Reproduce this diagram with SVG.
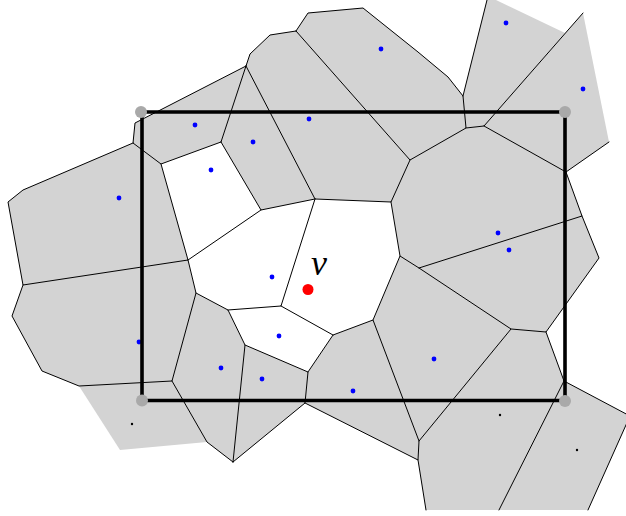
<svg xmlns="http://www.w3.org/2000/svg" width="626" height="516" viewBox="0 0 626 516">
<defs>
<style>
.g{fill:#d3d3d3;stroke:none}
.w{fill:#ffffff;stroke:none}
.e{fill:none;stroke:#000;stroke-width:1;stroke-linejoin:round;stroke-linecap:round}
.b{fill:#0000ff}
.k{fill:#000}
.c{fill:#a9a9a9}
.r{fill:none;stroke:#000;stroke-width:3.6}
</style>
</defs>
<rect width="626" height="516" fill="#fff"/>
<g id="cells">
<polygon id="c1" class="g" points="296,31 308,13 363,8 418,52 448,77 463,96 466,128 410,160"/>
<polygon id="c2" class="g" points="487,0 496,0 565,33 484,126 466,128 463,96"/>
<polygon id="c3" class="g" points="583,13 609,142 566,172 484,126"/>
<polygon id="c4" class="g" points="246,66 250,54 270,35 296,31 410,160 391,202 315,199"/>
<polygon id="c5" class="g" points="246,66 315,199 261,210 221,142"/>
<polygon id="c6" class="g" points="246,66 135,123 133,143 161,164 221,142"/>
<polygon id="c7" class="g" points="133,143 161,164 188,260 23,285 8,202 23,190"/>
<polygon id="c8" class="g" points="23,285 188,260 196,293 172,381 79,386 42,371 12,316"/>
<polygon id="c9" class="g" points="79,386 172,381 207,442 120,450"/>
<polygon id="c10" class="g" points="196,293 228,310 245,345 233,462 207,442 172,381"/>
<polygon id="c11" class="g" points="245,345 308,372 305,403 233,462"/>
<polygon id="c12" class="g" points="333,335 373,320 419,441 418,460 305,403 308,372"/>
<polygon id="c13" class="g" points="373,320 400,256 419,268 511,329 419,441"/>
<polygon id="c14" class="g" points="410,160 466,128 484,126 566,172 582,216 419,268 400,256 391,202"/>
<polygon id="c15" class="g" points="419,268 582,216 599,258 546,332 511,329"/>
<polygon id="c16" class="g" points="419,441 511,329 546,332 564,381 499,510 426,510 418,460"/>
<polygon id="c17" class="g" points="564,381 630,416 588,510 499,510"/>
<polygon id="w1" class="w" points="161,164 221,142 261,210 188,260"/>
<polygon id="w2" class="w" points="188,260 261,210 315,199 281,306 228,310 196,293"/>
<polygon id="w3" class="w" points="315,199 391,202 400,256 373,320 333,335 281,306"/>
<polygon id="w4" class="w" points="228,310 281,306 333,335 308,372 245,345"/>
</g>
<g id="edges" class="e">
<path d="M296,31 L308,13 L363,8 L418,52 L448,77 L463,96 L466,128 L410,160 L296,31
M463,96 L487,0
M583,13 L484,126 L466,128
M609,142 L566,172
M246,66 L250,54 L270,35 L296,31
M246,66 L315,199 L391,202 L410,160
M221,142 L246,66
M221,142 L261,210 L315,199
M246,66 L135,123 L133,143 L161,164 L221,142
M133,143 L23,190 L8,202 L23,285 L188,260 L161,164
M23,285 L12,316 L42,371 L79,386 L172,381 L196,293 L188,260
M261,210 L188,260
M172,381 L207,442 L233,462
M196,293 L228,310 L245,345 L233,462
M228,310 L281,306 L315,199
M245,345 L308,372 L305,403 L233,462
M308,372 L333,335 L373,320 L419,441 L418,460 L305,403
M281,306 L333,335
M373,320 L400,256 L419,268 L511,329 L419,441
M391,202 L400,256
M484,126 L566,172 L582,216 L419,268
M582,216 L599,258 L546,332 L511,329
M546,332 L564,381 L499,510
M418,460 L426,510
M564,381 L630,416 L588,510"/>
</g>
<g id="sites">
<circle class="b" cx="381" cy="49" r="2.4"/>
<circle class="b" cx="506" cy="23" r="2.4"/>
<circle class="b" cx="583" cy="89" r="2.4"/>
<circle class="b" cx="309" cy="119" r="2.4"/>
<circle class="b" cx="253" cy="142" r="2.4"/>
<circle class="b" cx="195" cy="125" r="2.4"/>
<circle class="b" cx="211" cy="170" r="2.4"/>
<circle class="b" cx="119" cy="198" r="2.4"/>
<circle class="b" cx="272" cy="277" r="2.4"/>
<circle class="b" cx="279" cy="336" r="2.4"/>
<circle class="b" cx="221" cy="368" r="2.4"/>
<circle class="b" cx="262" cy="379" r="2.4"/>
<circle class="b" cx="353" cy="391" r="2.4"/>
<circle class="b" cx="434" cy="359" r="2.4"/>
<circle class="b" cx="498" cy="233" r="2.4"/>
<circle class="b" cx="509" cy="250" r="2.4"/>
<circle class="b" cx="139" cy="342" r="2.4"/>
<circle class="k" cx="132" cy="424" r="1.2"/>
<circle class="k" cx="500" cy="415" r="1.2"/>
<circle class="k" cx="577" cy="450" r="1.2"/>
</g>
<g id="frame">
<path class="r" d="M142,112 H565 V400.5 H142 Z"/>
<circle class="c" cx="141" cy="112" r="6"/>
<circle class="c" cx="565" cy="112" r="6"/>
<circle class="c" cx="142" cy="400.5" r="6"/>
<circle class="c" cx="565" cy="401" r="6"/>
</g>
<g id="v">
<circle cx="308" cy="289.5" r="5.5" fill="#ff0000"/>
<text x="311" y="274.5" font-family="'Liberation Serif', serif" font-style="italic" font-size="36" fill="#000">v</text>
</g>
</svg>
